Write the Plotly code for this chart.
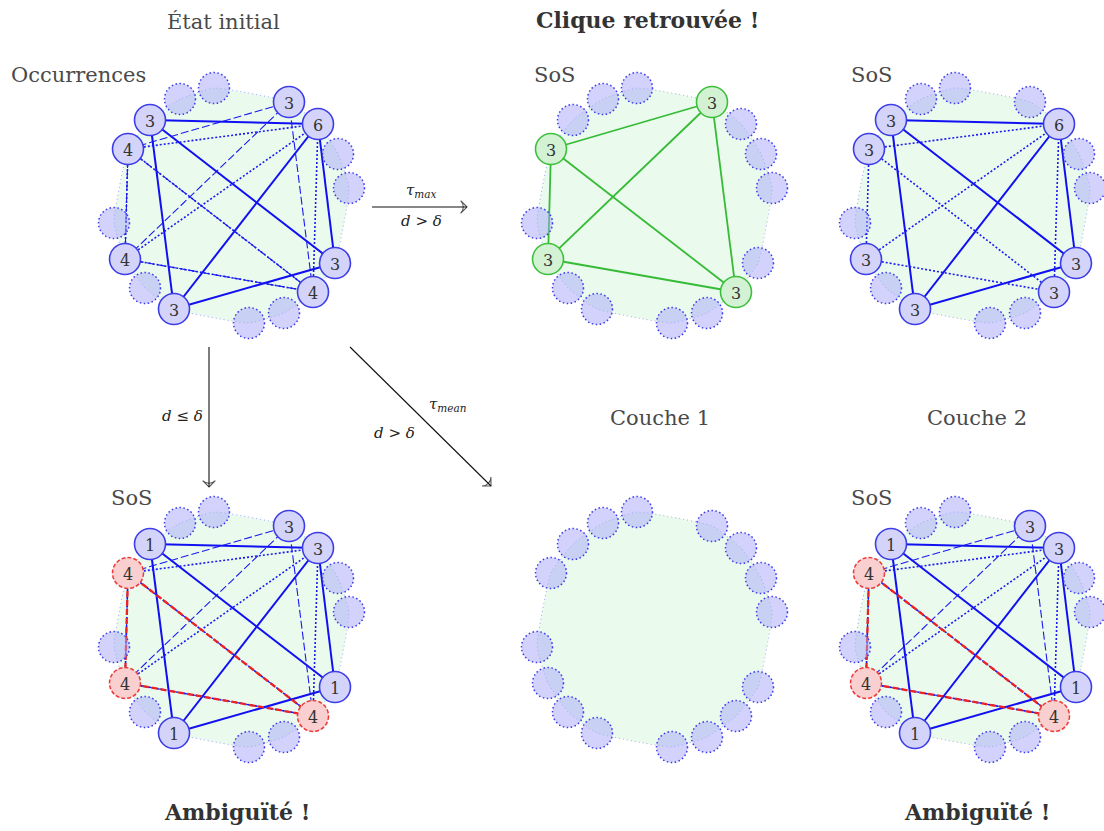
import plotly.graph_objects as go

# ---------------- data ----------------
# ring of 16 node slots (pixel layout of one panel)
RING_X = [214, 180, 150, 128, 114, 125, 145, 174, 249, 284, 313, 335, 349, 338, 318, 289]
RING_Y = [88, 99, 120, 149, 223, 259, 288, 309, 323, 313, 292, 263, 188, 154, 124, 102]

# initial state ("Occurrences")
occ_slots = [3, 4, 6, 8, 11, 12, 15, 16]
occ_labels = ["3", "4", "4", "3", "4", "3", "6", "3"]

# clique found
clique_slots = [4, 6, 11, 16]
clique_labels = ["3", "3", "3", "3"]

# SoS after tau_max
sosmax_slots = [3, 4, 6, 8, 11, 12, 15]
sosmax_labels = ["3", "3", "3", "3", "3", "3", "6"]

# SoS ambiguity
amb_slots = [3, 4, 6, 8, 11, 12, 15, 16]
amb_labels = ["1", "4", "4", "1", "4", "1", "3", "3"]
amb_red = [4, 6, 11]

# edges (slot pairs)
solid_edges = [(3, 15), (3, 8), (3, 12), (8, 15), (8, 12), (12, 15)]
dot_edges = [(4, 15), (6, 15), (11, 15), (4, 6), (4, 11), (6, 11)]
dash_edges = [(4, 16), (6, 16), (11, 16), (4, 6), (4, 11), (6, 11)]
red_edges = [(4, 6), (4, 11), (6, 11)]
green_edges = [(4, 16), (4, 6), (4, 11), (6, 16), (6, 11), (11, 16)]

# ---------------- styles ----------------
R = 15.5
FONT = "DejaVu Serif, Liberation Serif, serif"
TXT = "#4a4a4a"
EDGE_STYLES = {
    "solid": dict(color="#1010f2", width=2.0, dash="solid"),
    "dot": dict(color="#1a1af2", width=1.6, dash="2px,2px"),
    "dash": dict(color="#1a1af2", width=1.1, dash="8px,3px"),
    "red": dict(color="#ee2222", width=2.3, dash="6px,3px"),
    "green": dict(color="#36bb36", width=1.8, dash="solid"),
}
NODE_STYLES = {
    "empty": dict(fill="rgba(165,165,250,0.5)", line="#3a3af0", dash="1.5px,2.5px", width=1.5),
    "blue": dict(fill="#d4d4fa", line="#3c3ce8", dash="solid", width=1.6),
    "green": dict(fill="#d3f2d3", line="#3cc03c", dash="solid", width=1.6),
    "red": dict(fill="#facfcf", line="#ee3a3a", dash="4px,2px", width=1.5),
}

panels = [
    dict(off=(0, 0), slots=occ_slots, labels=occ_labels, kind="blue", red=[],
         edges=[(solid_edges, "solid"), (dot_edges, "dot"), (dash_edges, "dash")]),
    dict(off=(423, 0), slots=clique_slots, labels=clique_labels, kind="green", red=[],
         edges=[(green_edges, "green")]),
    dict(off=(741, 0), slots=sosmax_slots, labels=sosmax_labels, kind="blue", red=[],
         edges=[(solid_edges, "solid"), (dot_edges, "dot")]),
    dict(off=(0, 424), slots=amb_slots, labels=amb_labels, kind="blue", red=amb_red,
         edges=[(solid_edges, "solid"), (dot_edges, "dot"), (dash_edges, "dash"), (red_edges, "red")]),
    dict(off=(423, 424), slots=[], labels=[], kind="blue", red=[], edges=[]),
    dict(off=(741, 424), slots=amb_slots, labels=amb_labels, kind="blue", red=amb_red,
         edges=[(solid_edges, "solid"), (dot_edges, "dot"), (dash_edges, "dash"), (red_edges, "red")]),
]

fig = go.Figure()
shapes = []
annotations = []

for p in panels:
    ox, oy = p["off"]
    px = [x + ox for x in RING_X]
    py = [y + oy for y in RING_Y]
    # background blob
    fig.add_trace(go.Scatter(
        x=px + [px[0]], y=py + [py[0]], mode="lines", fill="toself",
        fillcolor="#eafaec",
        line=dict(color="rgba(110,110,255,0.6)", width=1, dash="1px,3px", shape="spline", smoothing=0.4),
        hoverinfo="skip", showlegend=False))
    # edges
    for elist, st in p["edges"]:
        ex, ey = [], []
        for a, b in elist:
            ex += [px[a - 1], px[b - 1], None]
            ey += [py[a - 1], py[b - 1], None]
        fig.add_trace(go.Scatter(x=ex, y=ey, mode="lines", line=EDGE_STYLES[st],
                                 hoverinfo="skip", showlegend=False))
    # nodes
    for s in range(1, 17):
        if s in p["slots"]:
            kind = "red" if s in p["red"] else p["kind"]
            label = p["labels"][p["slots"].index(s)]
        else:
            kind = "empty"
            label = None
        ns = NODE_STYLES[kind]
        cx, cy = px[s - 1], py[s - 1]
        shapes.append(dict(type="circle", xref="x", yref="y", layer="above",
                           x0=cx - R, x1=cx + R, y0=cy - R, y1=cy + R,
                           fillcolor=ns["fill"],
                           line=dict(color=ns["line"], width=ns["width"], dash=ns["dash"])))
        if label is not None:
            annotations.append(dict(x=cx, y=cy + 1, xref="x", yref="y", text=label, showarrow=False,
                                    font=dict(family=FONT, size=16, color="#333333"),
                                    xanchor="center", yanchor="middle"))


def txt(x, y, s, size=21, bold=False, xanchor="center", color=TXT):
    annotations.append(dict(x=x, y=y, xref="x", yref="y",
                            text=("<b>%s</b>" % s) if bold else s, showarrow=False,
                            font=dict(family=FONT, size=size, color=color),
                            xanchor=xanchor, yanchor="middle"))


txt(223, 22, "État initial")
txt(647, 20, "Clique retrouvée !", size=22, bold=True, color="#333333")
txt(9, 75, "Occurrences", xanchor="left")
txt(532, 75, "SoS", xanchor="left")
txt(849, 75, "SoS", xanchor="left")
txt(660, 418, "Couche 1")
txt(977, 418, "Couche 2")
txt(109, 498, "SoS", xanchor="left")
txt(849, 498, "SoS", xanchor="left")
txt(237, 812, "Ambiguïté !", size=22, bold=True, color="#333333")
txt(977, 812, "Ambiguïté !", size=22, bold=True, color="#333333")

# arrows (lines with an arrow marker at the end)
for (x0, y0, x1, y1) in [(372, 207, 467, 207), (209, 347, 209, 487), (350, 347, 491, 486)]:
    fig.add_trace(go.Scatter(
        x=[x0, x1], y=[y0, y1], mode="lines+markers",
        line=dict(color="#111111", width=1.1),
        marker=dict(symbol=["circle", "arrow-wide-open"], size=[0, 9], angleref="previous",
                    color="#111111", line=dict(color="#111111", width=1.1)),
        hoverinfo="skip", showlegend=False))

txt(421, 190, "<i>τ</i><sub><i>max</i></sub>", size=15, color="#222222")
txt(421, 221, "<i>d</i> > <i>δ</i>", size=15, color="#222222")
txt(182, 416, "<i>d</i> ≤ <i>δ</i>", size=15, color="#222222")
txt(448, 404, "<i>τ</i><sub><i>mean</i></sub>", size=15, color="#222222")
txt(394, 433, "<i>d</i> > <i>δ</i>", size=15, color="#222222")

fig.update_layout(
    width=1104, height=831, margin=dict(l=0, r=0, t=0, b=0),
    paper_bgcolor="white", plot_bgcolor="white",
    xaxis=dict(range=[0, 1104], visible=False, fixedrange=True),
    yaxis=dict(range=[831, 0], visible=False, fixedrange=True),
    shapes=shapes, annotations=annotations, showlegend=False,
)

fig.write_html("out.html", post_script="document.body.style.margin='0';",
               config={"displayModeBar": False})
